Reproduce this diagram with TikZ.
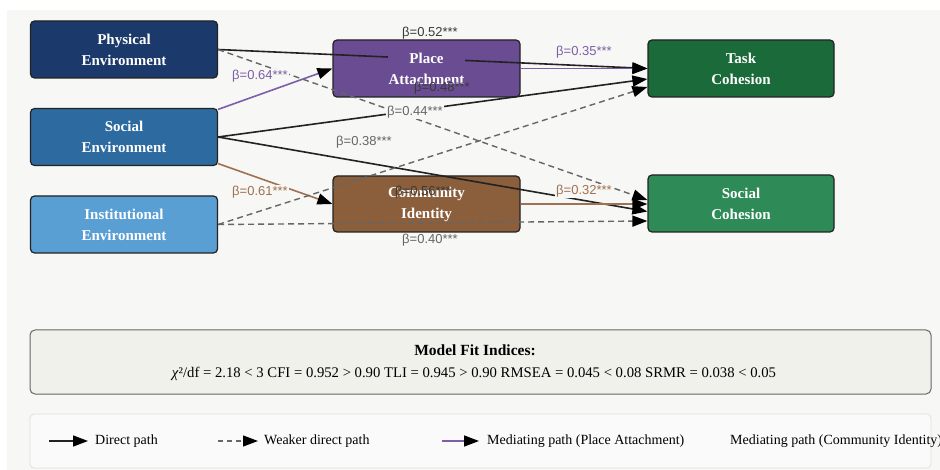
\documentclass[tikz,border=0pt]{standalone}
\usepackage{fontspec}
\setmainfont{Liberation Serif}
\newfontfamily\lblfont{Liberation Sans}
\usetikzlibrary{arrows.meta,calc}

\definecolor{canvas}{HTML}{F7F7F5}
\definecolor{physc}{HTML}{1B3A6B}
\definecolor{socc}{HTML}{2C6AA0}
\definecolor{instc}{HTML}{5A9FD4}
\definecolor{placec}{HTML}{6A4C93}
\definecolor{commc}{HTML}{8B5E3C}
\definecolor{taskc}{HTML}{1B6B3A}
\definecolor{scohc}{HTML}{2E8B57}
\definecolor{edgec}{HTML}{222222}
\definecolor{dashc}{HTML}{666666}
\definecolor{medpl}{HTML}{7E5EA8}
\definecolor{medco}{HTML}{A0714F}
\definecolor{darklbl}{HTML}{3A3A3A}
\definecolor{fitfill}{HTML}{F1F1EC}
\definecolor{legfill}{HTML}{FAFAFA}

\tikzset{
  varbox/.style={draw=edgec, line width=1.2pt, rounded corners=4pt,
    minimum width=187pt, minimum height=57pt, inner sep=0pt, fill=#1},
  vartext/.style={text=white, align=center, fill=#1, inner sep=1pt,
    font=\bfseries\fontsize{15}{21}\selectfont},
  tip/.style={-{Triangle[black,length=15pt,width=11pt]}},
  directpath/.style={tip, draw=edgec, line width=1.6pt},
  weakpath/.style={tip, draw=dashc, line width=1.4pt, dash pattern=on 6pt off 4pt},
  placepath/.style={tip, draw=medpl, line width=1.6pt},
  commpath/.style={tip, draw=medco, line width=1.6pt},
  coef/.style={font=\lblfont\fontsize{13}{15}\selectfont, inner sep=1pt, text=#1},
  coeffill/.style={coef=#1, fill=canvas},
  legtext/.style={font=\fontsize{14}{16}\selectfont, anchor=west, inner sep=0pt},
}

\begin{document}
\begin{tikzpicture}[x=1pt,y=-1pt]
\useasboundingbox (0,0) rectangle (940,470);
\fill[white] (0,0) rectangle (940,470);
\fill[canvas] (7,10) rectangle (940,470);

% variable boxes
\node[varbox=physc] (P)  at (124,49.5) {};
\node[varbox=socc]  (S)  at (124,137) {};
\node[varbox=instc] (I)  at (124,224.5) {};
\node[varbox=placec] (PA) at (426.5,68.5) {};
\node[varbox=commc, minimum height=56pt] (CI) at (426.5,204) {};
\node[varbox=taskc, minimum width=186pt] (TC) at (741,68.5) {};
\node[varbox=scohc, minimum width=186pt] (SC) at (741,203.5) {};

% paths
\draw[directpath] (P.east) -- (TC.west);
\draw[weakpath] (P.east) -- ($(SC.west)+(0,-3.5)$);
\draw[placepath] ($(S.north east)+(0,1.5)$) -- (PA.west);
\draw[placepath] (PA.east) -- (TC.west);
\draw[directpath] (S.east) -- ($(TC.west)+(0,10.5)$);
\draw[directpath] (S.east) -- ($(SC.west)+(0,8)$);
\draw[commpath] ($(S.south east)+(0,-2.5)$) -- (CI.west);
\draw[commpath] (CI.east) -- ($(SC.west)+(0,0.5)$);
\draw[weakpath] (I.east) -- ($(TC.west)+(0,18.5)$);
\draw[weakpath] (I.east) -- ($(SC.west)+(0,17.5)$);

% box captions
\node[vartext=physc]  (Pt)  at (P)  {Physical\\Environment};
\node[vartext=socc]   (St)  at (S)  {Social\\Environment};
\node[vartext=instc]  (It)  at (I)  {Institutional\\Environment};
\node[vartext=placec] (PAt) at (PA) {Place\\Attachment};
\node[vartext=commc]  (CIt) at (CI) {Community\\Identity};
\node[vartext=taskc]  (TCt) at (TC) {Task\\Cohesion};
\node[vartext=scohc]  (SCt) at (SC) {Social\\Cohesion};

% path coefficients
\node[coef=darklbl]     (b52) at (430,33)  {β=0.52***};
\node[coeffill=medpl]   (b64) at (260,76)  {β=0.64***};
\node[coef=medpl]       (b35) at (584,52)  {β=0.35***};
\node[coef=darklbl]     (b48) at (442,88)  {β=0.48***};
\node[coeffill=dashc]   (b44) at (415,112) {β=0.44***};
\node[coeffill=dashc]   (b38) at (364,142) {β=0.38***};
\node[coeffill=medco]   (b61) at (260,192) {β=0.61***};
\node[coef=darklbl]     (b56) at (423,192) {β=0.56***};
\node[coeffill=medco]   (b32) at (584,191) {β=0.32***};
\node[coef=dashc]       (b40) at (430,240) {β=0.40***};

% model fit panel
\draw[draw=dashc, line width=1pt, fill=fitfill, rounded corners=5pt]
  (30,330) rectangle (931,394);
\node[font=\bfseries\fontsize{15.5}{17}\selectfont, inner sep=0pt] (fittitle) at (475,350) {Model Fit Indices:};
\node[font=\fontsize{14.7}{16}\selectfont, inner sep=0pt] (fitline) at (474,374)
  {\textit{χ}²/df = 2.18 < 3 CFI = 0.952 > 0.90 TLI = 0.945 > 0.90 RMSEA = 0.045 < 0.08 SRMR = 0.038 < 0.05};

% legend panel
\draw[draw=black!12, line width=0.8pt, fill=legfill, rounded corners=4pt]
  (30,414) rectangle (931,468);
\coordinate (l1a) at (49,441);  \coordinate (l1b) at (88,441);
\coordinate (l2a) at (218,441); \coordinate (l2b) at (258,441);
\coordinate (l3a) at (442,441); \coordinate (l3b) at (479,441);
\draw[directpath] (l1a) -- (l1b);
\draw[weakpath, line width=1.2pt, dash pattern=on 5pt off 4pt] (l2a) -- (l2b);
\draw[placepath] (l3a) -- (l3b);
\node[legtext] (lg1) at (95,441)  {Direct path};
\node[legtext] (lg2) at (264,441) {Weaker direct path};
\node[legtext] (lg3) at (487,441) {Mediating path (Place Attachment)};
\node[legtext] (lg4) at (730,441) {Mediating path (Community Identity)};
\end{tikzpicture}
\end{document}
